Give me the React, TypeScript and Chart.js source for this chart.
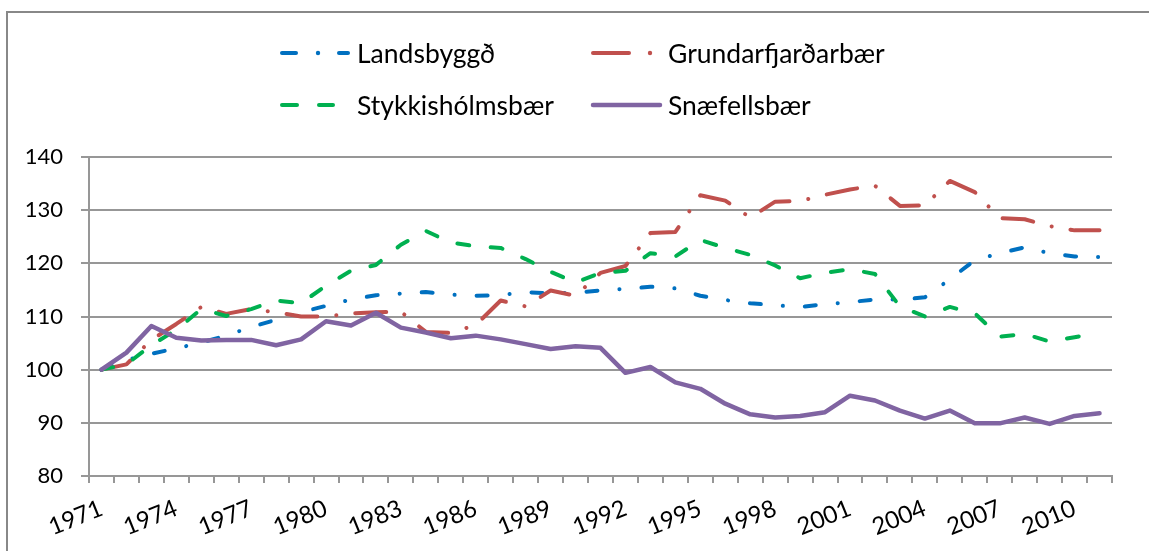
import React, { useEffect, useRef } from "react";
import { Chart, registerables } from "chart.js";

Chart.register(...registerables);

const years = [
  "1971", "1972", "1973", "1974", "1975", "1976", "1977", "1978", "1979", "1980",
  "1981", "1982", "1983", "1984", "1985", "1986", "1987", "1988", "1989", "1990",
  "1991", "1992", "1993", "1994", "1995", "1996", "1997", "1998", "1999", "2000",
  "2001", "2002", "2003", "2004", "2005", "2006", "2007", "2008", "2009", "2010",
  "2011",
];

const landsbyggd = [
  100, 101.8, 103.0, 104.0, 105.1, 106.4, 108.0, 109.4, 110.8, 112.0,
  113.2, 114.0, 114.3, 114.6, 114.1, 113.9, 114.0, 114.6, 114.3, 114.5,
  114.9, 115.2, 115.6, 115.3, 113.9, 113.1, 112.5, 112.1, 111.8, 112.3,
  112.7, 113.2, 113.2, 113.6, 117.0, 120.6, 121.9, 123.0, 121.9, 121.3,
  121.2,
];

const grundarfjordur = [
  100, 101.0, 105.6, 108.6, 111.8, 110.5, 111.4, 110.8, 110.0, 110.0,
  110.6, 110.8, 110.9, 107.1, 106.9, 108.4, 113.0, 111.9, 114.9, 113.9,
  118.2, 119.5, 125.7, 125.9, 132.8, 131.8, 128.6, 131.6, 131.7, 132.9,
  133.9, 134.6, 130.8, 130.9, 135.5, 133.4, 128.5, 128.3, 127.0, 126.2,
  126.2,
];

const stykkisholmur = [
  100, 101.0, 104.6, 107.5, 111.4, 110.1, 111.4, 113.0, 112.5, 115.8,
  118.6, 119.7, 123.5, 126.1, 123.9, 123.2, 122.9, 120.8, 118.4, 116.4,
  118.2, 118.6, 121.9, 121.3, 124.4, 122.9, 121.6, 119.6, 117.2, 118.2,
  118.9, 118.0, 111.9, 110.0, 111.8, 110.6, 106.2, 106.7, 105.3, 106.1,
  107.0,
];

const snaefellsbaer = [
  100, 103.2, 108.2, 106.0, 105.5, 105.6, 105.6, 104.6, 105.7, 109.1,
  108.3, 110.7, 107.9, 107.0, 105.9, 106.4, 105.7, 104.8, 103.9, 104.4,
  104.1, 99.4, 100.5, 97.6, 96.4, 93.6, 91.6, 91.0, 91.3, 92.0,
  95.1, 94.2, 92.3, 90.8, 92.3, 89.9, 89.9, 91.0, 89.8, 91.3,
  91.8,
];

const seriesNames = ["Landsbyggð", "Grundarfjarðarbær", "Stykkishólmsbær", "Snæfellsbær"];
const seriesColors = ["#0070C0", "#C0504D", "#00B050", "#8064A2"];

const GRID = "#979797";
const FONT = "Lato";

function LegendItem(props: { x: number; y: number; idx: number }) {
  const { x, y, idx } = props;
  const c = seriesColors[idx];
  let sample: React.ReactNode = null;
  if (idx === 0) {
    sample = (
      <>
        <line x1={2} y1={6} x2={16} y2={6} stroke={c} strokeWidth={4} strokeLinecap="round" />
        <circle cx={38} cy={6} r={2.2} fill={c} />
        <line x1={59} y1={6} x2={68} y2={6} stroke={c} strokeWidth={4} strokeLinecap="round" />
      </>
    );
  } else if (idx === 1) {
    sample = (
      <>
        <line x1={2} y1={6} x2={38} y2={6} stroke={c} strokeWidth={4} strokeLinecap="round" />
        <circle cx={59} cy={6} r={2.2} fill={c} />
      </>
    );
  } else if (idx === 2) {
    sample = (
      <>
        <line x1={2} y1={6} x2={17} y2={6} stroke={c} strokeWidth={4} strokeLinecap="round" />
        <line x1={39} y1={6} x2={53} y2={6} stroke={c} strokeWidth={4} strokeLinecap="round" />
      </>
    );
  } else {
    sample = <line x1={2} y1={6} x2={69} y2={6} stroke={c} strokeWidth={4.5} strokeLinecap="round" />;
  }
  return (
    <>
      <svg
        width={72}
        height={12}
        style={{ position: "absolute", left: x, top: y - 6, overflow: "visible" }}
      >
        {sample}
      </svg>
      <div
        style={{
          position: "absolute",
          left: x + 77,
          top: y - 17,
          height: 34,
          lineHeight: "34px",
          fontFamily: FONT,
          fontSize: 26.5,
          color: "#000",
          whiteSpace: "nowrap",
        }}
      >
        {seriesNames[idx]}
      </div>
    </>
  );
}

export default function App() {
  const canvasRef = useRef<HTMLCanvasElement | null>(null);

  useEffect(() => {
    if (!canvasRef.current) return;
    const dashes = [[11, 22, 0.1, 22], [31, 19, 0.1, 19], [12, 21.5], []];
    const datas = [landsbyggd, grundarfjordur, stykkisholmur, snaefellsbaer];
    const chart = new Chart(canvasRef.current, {
      type: "line",
      data: {
        labels: years,
        datasets: datas.map((d, i) => ({
          label: seriesNames[i],
          data: d,
          borderColor: seriesColors[i],
          backgroundColor: seriesColors[i],
          borderWidth: i === 3 ? 4.5 : 4,
          borderDash: dashes[i],
          borderCapStyle: "round" as const,
          borderJoinStyle: "round" as const,
          pointRadius: 0,
          tension: 0,
          fill: false,
          order: 3 - i,
        })),
      },
      options: {
        animation: false,
        responsive: false,
        devicePixelRatio: 1,
        layout: { padding: { left: 0, top: 157, right: 37, bottom: 0 } },
        plugins: {
          legend: { display: false },
          tooltip: { enabled: false },
        },
        scales: {
          x: {
            type: "category",
            offset: true,
            grid: {
              offset: true,
              drawOnChartArea: false,
              drawTicks: true,
              tickLength: 7,
              color: GRID,
              lineWidth: 2,
            },
            border: { display: true, color: GRID, width: 2 },
            ticks: {
              autoSkip: false,
              minRotation: 22,
              maxRotation: 22,
              padding: 11,
              color: "#000",
              font: { family: FONT, size: 24 },
              callback: (_v: any, i: number) => (i % 3 === 0 ? years[i] : ""),
            },
            afterFit: (s: any) => {
              s.height = 75;
            },
          },
          y: {
            min: 80,
            max: 140,
            ticks: {
              stepSize: 10,
              padding: 18,
              color: "#000",
              font: { family: FONT, size: 22 },
            },
            grid: {
              color: GRID,
              lineWidth: 2,
              drawTicks: true,
              tickLength: 8,
            },
            border: { display: true, color: GRID, width: 2 },
            afterFit: (s: any) => {
              s.width = 89;
            },
          },
        },
      },
    });
    return () => chart.destroy();
  }, []);

  return (
    <div
      style={{
        position: "absolute",
        left: 0,
        top: 0,
        width: 1149,
        height: 551,
        overflow: "hidden",
        background: "#fff",
      }}
    >
      <div
        style={{
          position: "absolute",
          left: 6,
          top: 11,
          width: 1200,
          height: 600,
          borderLeft: "2px solid #888888",
          borderTop: "2px solid #888888",
        }}
      />
      <canvas
        ref={canvasRef}
        width={1149}
        height={551}
        style={{ position: "absolute", left: 0, top: 0, width: 1149, height: 551 }}
      />
      <LegendItem x={280} y={53} idx={0} />
      <LegendItem x={591} y={53} idx={1} />
      <LegendItem x={280} y={105} idx={2} />
      <LegendItem x={591} y={105} idx={3} />
    </div>
  );
}
